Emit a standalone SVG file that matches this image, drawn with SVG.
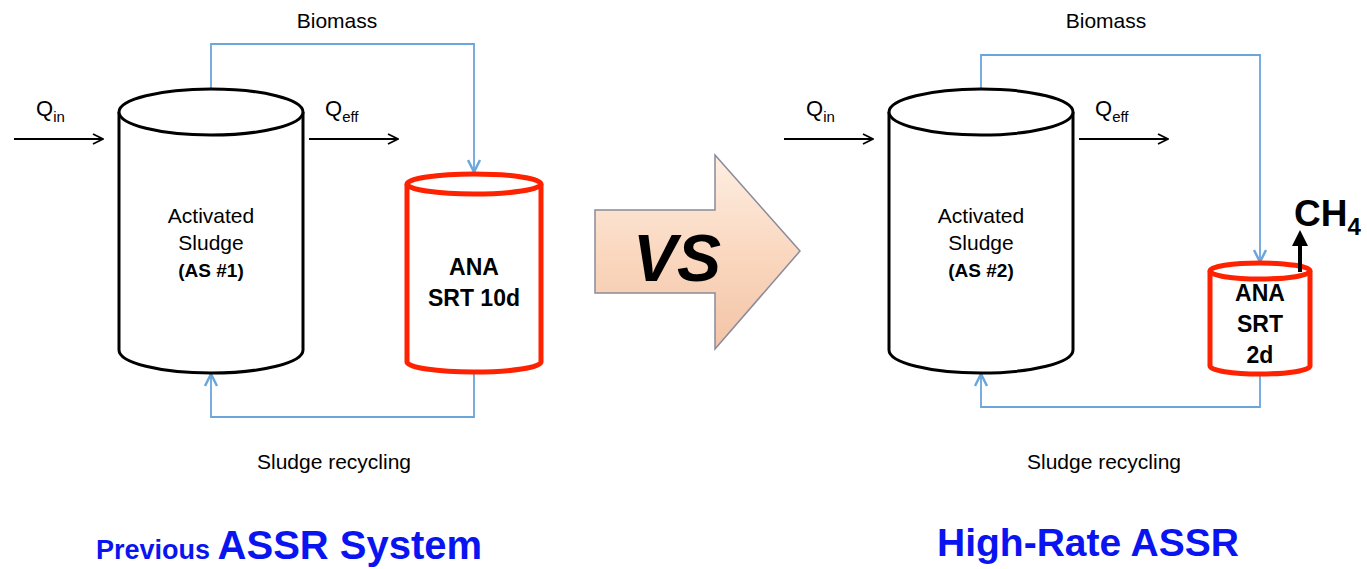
<svg xmlns="http://www.w3.org/2000/svg" width="1367" height="569" viewBox="0 0 1367 569">
<defs>
<marker id="blk" viewBox="0 0 12 12" refX="11" refY="6" markerWidth="12" markerHeight="12" markerUnits="userSpaceOnUse" orient="auto"><path d="M1,1 L11,6 L1,11" fill="none" stroke="#000" stroke-width="1.8"/></marker>
<marker id="blu" viewBox="0 0 14 14" refX="13" refY="7" markerWidth="14" markerHeight="14" markerUnits="userSpaceOnUse" orient="auto"><path d="M1,1 L13,7 L1,13" fill="none" stroke="#6aa6dc" stroke-width="2.5"/></marker>
<linearGradient id="vsg" x1="0" y1="0" x2="0" y2="1"><stop offset="0" stop-color="#fdeee2"/><stop offset="0.5" stop-color="#fad8c0"/><stop offset="1" stop-color="#f3c4a6"/></linearGradient>
<style>
.t{font-family:"Liberation Sans",Arial,sans-serif;fill:#000}
.n{font-size:21px;text-anchor:middle}
.b{font-size:23px;font-weight:bold;text-anchor:middle}
.blk{fill:#fff;stroke:#000;stroke-width:3}
.red{fill:#fff;stroke:#ff2200;stroke-width:5}
.flow{fill:none;stroke:#000;stroke-width:1.8}
.conn{fill:none;stroke:#6aa6dc;stroke-width:1.8}
.ttl{font-family:"Liberation Sans",Arial,sans-serif;fill:#0a14f0;font-weight:bold}
</style>
</defs>
<g id="connectors">
<path class="flow" d="M14,139 H103" marker-end="url(#blk)"/>
<path class="flow" d="M309,139 H398" marker-end="url(#blk)"/>
<path class="conn" d="M211,89 V44 H474 V172" marker-end="url(#blu)"/>
<path class="conn" d="M474,373 V417 H211 V374" marker-end="url(#blu)"/>
<path class="flow" d="M784,139 H873" marker-end="url(#blk)"/>
<path class="flow" d="M1079,139 H1168" marker-end="url(#blk)"/>
<path class="conn" d="M981,89 V55 H1260 V262" marker-end="url(#blu)"/>
<path class="conn" d="M1260,375 V407 H981 V374" marker-end="url(#blu)"/>
</g>
<g id="as1">
<path class="blk" d="M119,112 V350 A92,23 0 0 0 303,350 V112"/>
<ellipse class="blk" cx="211" cy="112" rx="92" ry="23"/>
<text class="t n" x="211" y="223">Activated</text>
<text class="t n" x="211" y="250">Sludge</text>
<text class="t n" x="211" y="277" font-weight="bold" style="font-size:19px">(AS #1)</text>
</g>
<g id="ana1">
<path class="red" d="M407,184 V362 A67,10 0 0 0 541,362 V184"/>
<ellipse class="red" cx="474" cy="184" rx="67" ry="10"/>
<text class="t b" x="474" y="275">ANA</text>
<text class="t b" x="474" y="306">SRT 10d</text>
</g>
<g id="labels-left">
<text class="t n" x="337" y="28">Biomass</text>
<text class="t n" x="334" y="469">Sludge recycling</text>
<text class="t" x="36" y="116" font-size="22">Q<tspan font-size="15" dy="6">in</tspan></text>
<text class="t" x="325" y="116" font-size="22">Q<tspan font-size="15" dy="6">eff</tspan></text>
</g>
<g id="vs">
<path d="M595,210 H715 V155 L800,251 L715,349 V293 H595 Z" fill="url(#vsg)" stroke="#8a8a9a" stroke-width="1.5"/>
<text class="t" x="677" y="281" font-size="66" font-weight="bold" font-style="italic" text-anchor="middle">VS</text>
</g>
<g id="as2">
<path class="blk" d="M889,112 V350 A92,23 0 0 0 1073,350 V112"/>
<ellipse class="blk" cx="981" cy="112" rx="92" ry="23"/>
<text class="t n" x="981" y="223">Activated</text>
<text class="t n" x="981" y="250">Sludge</text>
<text class="t n" x="981" y="277" font-weight="bold" style="font-size:19px">(AS #2)</text>
</g>
<g id="ana2">
<path class="red" d="M1210,271 V366 A50,8 0 0 0 1310,366 V271"/>
<ellipse class="red" cx="1260" cy="271" rx="50" ry="8"/>
<text class="t b" x="1260" y="301">ANA</text>
<text class="t b" x="1260" y="332">SRT</text>
<text class="t b" x="1260" y="363">2d</text>
</g>
<g id="ch4">
<path d="M1300,272 V244" stroke="#000" stroke-width="4" fill="none"/>
<path d="M1292,246 L1300,230 L1308,246 Z" fill="#000"/>
<text class="t" x="1294" y="226" font-size="37" font-weight="bold">CH<tspan font-size="24" dy="9">4</tspan></text>
</g>
<g id="labels-right">
<text class="t n" x="1106" y="28">Biomass</text>
<text class="t n" x="1104" y="469">Sludge recycling</text>
<text class="t" x="806" y="116" font-size="22">Q<tspan font-size="15" dy="6">in</tspan></text>
<text class="t" x="1095" y="116" font-size="22">Q<tspan font-size="15" dy="6">eff</tspan></text>
</g>
<g id="titles">
<text class="ttl" x="96" y="559" font-size="27">Previous <tspan font-size="40">ASSR System</tspan></text>
<text class="ttl" x="1088" y="556" font-size="39" text-anchor="middle">High-Rate ASSR</text>
</g>
</svg>
